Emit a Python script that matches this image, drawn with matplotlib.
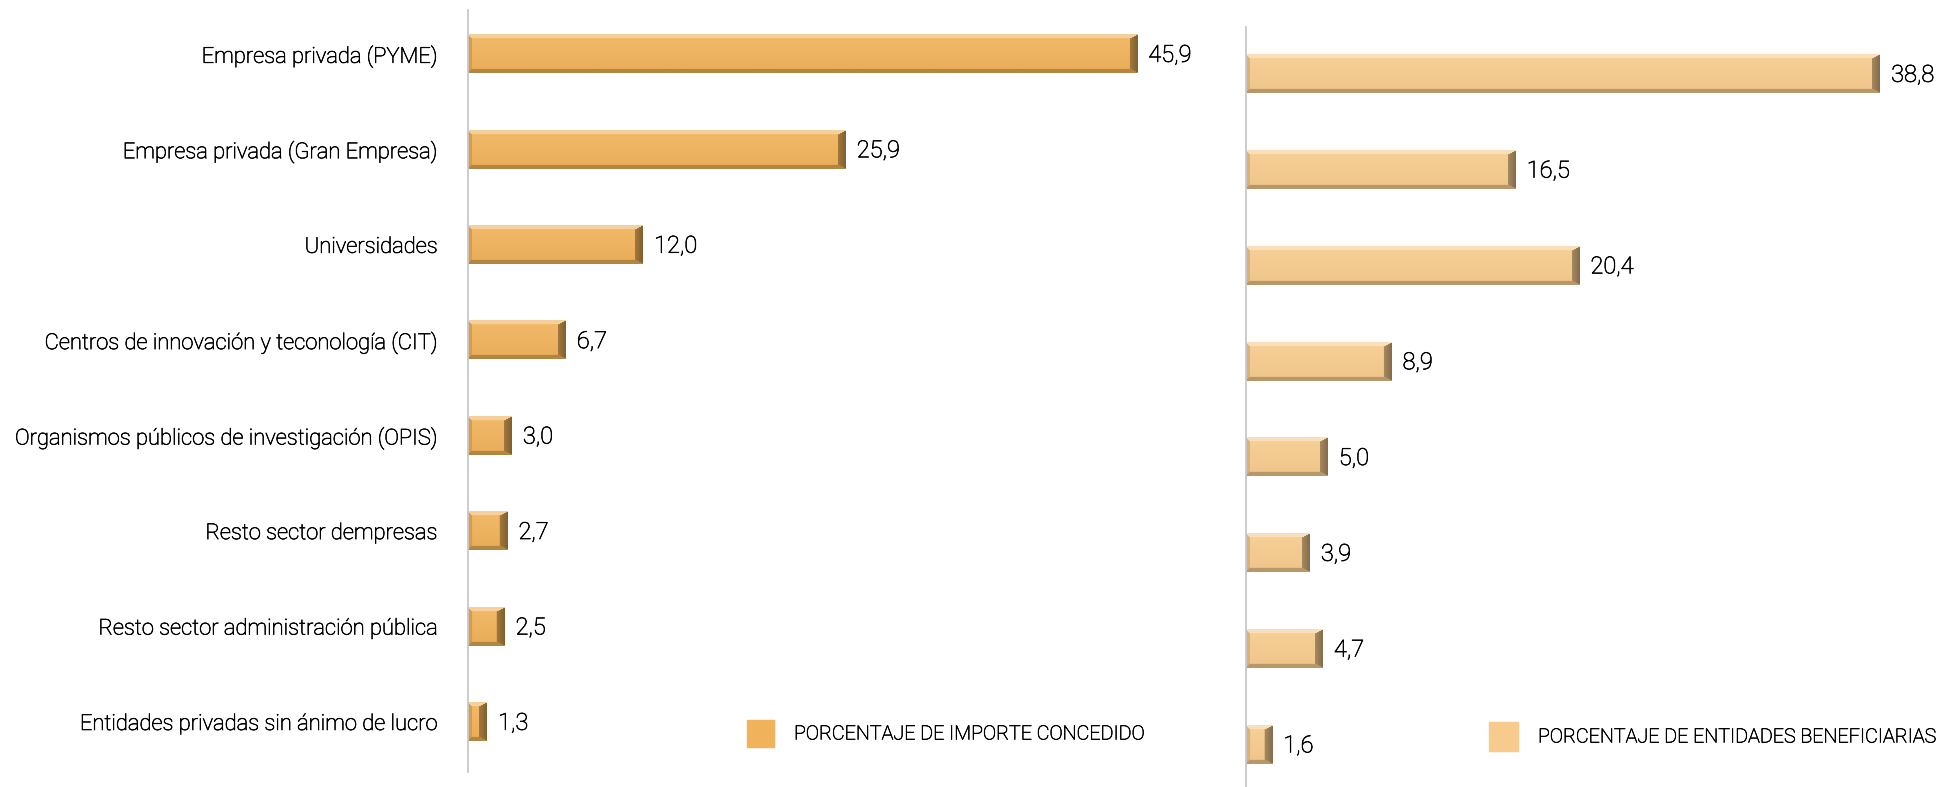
import numpy as np
import matplotlib
matplotlib.use('Agg')
import matplotlib.pyplot as plt
import matplotlib.patheffects as pe
from matplotlib.colors import to_rgb
from matplotlib.patches import Rectangle

# --- datos ---
categorias = [
    "Empresa privada (PYME)",
    "Empresa privada (Gran Empresa)",
    "Universidades",
    "Centros de innovación y teconología (CIT)",
    "Organismos públicos de investigación (OPIS)",
    "Resto sector dempresas",
    "Resto sector administración pública",
    "Entidades privadas sin ánimo de lucro",
]
importe_concedido = [45.9, 25.9, 12.0, 6.7, 3.0, 2.7, 2.5, 1.3]
entidades_beneficiarias = [38.8, 16.5, 20.4, 8.9, 5.0, 3.9, 4.7, 1.6]
leyenda_izq = "PORCENTAJE DE IMPORTE CONCEDIDO"
leyenda_der = "PORCENTAJE DE ENTIDADES BENEFICIARIAS"

COLOR_IZQ = "#F0B25A"
COLOR_DER = "#F6CB8D"
TEXTO = "#000000"
W, H, DPI = 1952, 787, 100

plt.rcParams['font.family'] = ['Roboto', 'DejaVu Sans']
# un trazo fino para engrosar un poco la fuente light
TRAZO = [pe.withStroke(linewidth=0.45, foreground=TEXTO)]


def barra_biselada(ax, y, w, h, color, px_por_unidad, px_alto):
    # imagen con caras biseladas para imitar la barra con relieve
    c = np.array(to_rgb(color))
    ncol = max(int(round(w * px_por_unidad)), 3)
    nfil = max(int(round(px_alto)), 6)
    r, k = np.mgrid[0:nfil, 0:ncol]
    dt, db = r, nfil - 1 - r
    dl, dr = k, ncol - 1 - k
    bt, bb = 4.0, 4.0
    br = min(8.0, ncol / 2.5)
    bl = min(4.0, ncol / 4.0)
    caras = np.stack([dt / bt, db / bb, dl / bl, dr / br])
    cara = np.argmin(caras, axis=0)
    dentro = caras.min(axis=0) >= 1.0

    claro = c + 0.40 * (1 - c)
    colores = [claro, c * 0.75, c * 0.88, c * 0.66]
    img = np.zeros((nfil, ncol, 3))
    # cara central con un ligero degradado vertical
    t = (r / (nfil - 1))[..., None]
    centro = (c + 0.10 * (1 - c)) * (1 - t) + c * 0.97 * t
    img[:] = centro
    for j, col in enumerate(colores):
        m = (~dentro) & (cara == j)
        img[m] = col
    # oscurecer la cara derecha hacia el borde
    m = (~dentro) & (cara == 3)
    img[m] = img[m] * (0.82 + 0.22 * (dr[m] / br))[:, None]
    img = np.clip(img, 0, 1)
    ax.imshow(img, extent=(0, w, y + h / 2, y - h / 2), origin='upper',
              aspect='auto', interpolation='bilinear', zorder=2)


def panel(ax, valores, color, px_por_unidad, ylim, etiquetas):
    n = len(valores)
    alto = 0.40
    px_alto = alto * 95.5
    for i, v in enumerate(valores):
        barra_biselada(ax, i, v, alto, color, px_por_unidad, px_alto)
        ax.annotate(f"{v:.1f}".replace('.', ','), xy=(v, i), xytext=(8, -1),
                    textcoords='offset points', va='center', ha='left',
                    fontsize=17, fontweight='light', color=TEXTO,
                    path_effects=TRAZO)
    ancho_px = ax.get_position().width * W
    ax.set_xlim(0, ancho_px / px_por_unidad)
    ax.set_ylim(*ylim)
    ax.set_yticks(range(n))
    if etiquetas:
        etqs = ax.set_yticklabels(categorias, fontsize=15.8, color=TEXTO,
                                  fontweight='light')
        for e in etqs:
            e.set_path_effects(TRAZO)
    else:
        ax.set_yticklabels([])
    ax.tick_params(axis='y', length=0, pad=21.5)
    ax.set_xticks([])
    for s in ['top', 'right', 'bottom']:
        ax.spines[s].set_visible(False)
    ax.spines['left'].set_color('#c8c8c8')
    ax.spines['left'].set_linewidth(1.3)
    ax.spines['left'].set_zorder(3)


fig = plt.figure(figsize=(W / DPI, H / DPI), dpi=DPI)

ax1 = fig.add_axes([468 / W, (H - 772) / H, 712 / W, 762 / H])
panel(ax1, importe_concedido, COLOR_IZQ, 14.58, (7.524, -0.461), True)

ax2 = fig.add_axes([1246 / W, 0.0, 700 / W, 760 / H])
panel(ax2, entidades_beneficiarias, COLOR_DER, 16.34, (7.443, -0.49), False)

# leyendas manuales
for (x0, y0, lado, color, xt, yt, texto) in [
        (747, 720, 27, COLOR_IZQ, 794, 734, leyenda_izq),
        (1489, 722, 29, COLOR_DER, 1538, 737, leyenda_der)]:
    fig.patches.append(Rectangle((x0 / W, (H - y0 - lado) / H), lado / W, lado / H,
                                 transform=fig.transFigure, color=color))
    fig.text(xt / W, (H - yt) / H, texto, va='center', ha='left',
             fontsize=14.2, fontweight='light', color=TEXTO, path_effects=TRAZO)

fig.savefig("out.png", dpi=DPI)
plt.close(fig)
